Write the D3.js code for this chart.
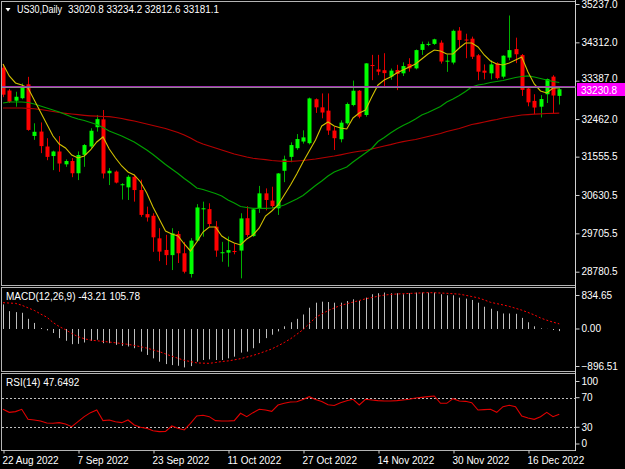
<!DOCTYPE html>
<html><head><meta charset="utf-8">
<script src="https://cdn.jsdelivr.net/npm/d3@7"></script>
<style>
html,body{margin:0;padding:0;background:#000;overflow:hidden}
svg{display:block}
text{font-family:"Liberation Sans",Arial,sans-serif;font-size:10px;fill:#fff}
</style>
</head><body>
<svg id="c" width="625" height="469"></svg>
<script>
const dates = ["08-22","08-23","08-24","08-25","08-26","08-29","08-30","08-31","09-01","09-02","09-05","09-06","09-07","09-08","09-09","09-12","09-13","09-14","09-15","09-16","09-19","09-20","09-21","09-22","09-23","09-26","09-27","09-28","09-29","09-30","10-03","10-04","10-05","10-06","10-07","10-10","10-11","10-12","10-13","10-14","10-17","10-18","10-19","10-20","10-21","10-24","10-25","10-26","10-27","10-28","10-31","11-01","11-02","11-03","11-04","11-07","11-08","11-09","11-10","11-11","11-14","11-15","11-16","11-17","11-18","11-21","11-22","11-23","11-24","11-25","11-28","11-29","11-30","12-01","12-02","12-05","12-06","12-07","12-08","12-09","12-12","12-13","12-14","12-15","12-16","12-19","12-20","12-21","12-22","12-23"].map(d => "2022-" + d);

const open = [33700,33150,32905,32965,33300,32055,32160,31800,31570,31680,31370,31450,31155,31600,31800,32265,32455,31155,31195,30865,30815,31070,30750,30170,30130,29585,29305,29180,29690,29225,28725,29530,30285,30290,29866,29225,29240,29280,29290,30070,29640,30310,30670,30495,30310,31215,31550,31760,31920,31880,32940,32745,32665,32185,31975,32360,32800,33145,32560,33765,33660,33640,33485,33645,33565,33790,33685,34130,34260,34275,34305,33850,33825,34595,34380,34400,34000,33630,33565,33805,33485,33945,34150,34005,33200,32900,32760,33060,33485,33020.8];
const high = [33790,33190,33120,33320,33480,32360,32380,32000,31700,32050,31490,31520,31680,31860,32240,32560,32680,31280,31220,30915,31110,31120,31000,30350,30190,29830,29670,29830,29760,29500,29590,30410,30470,30430,30000,29500,29630,29460,30190,30360,30300,30850,30790,30830,31160,31580,31900,32100,32190,32980,32960,33080,33080,32280,32430,32860,33390,33160,33810,34010,34010,34050,33680,33770,33830,33930,34140,34330,34330,34400,34360,34020,34620,34680,34520,34450,34030,33780,33880,33830,34000,34960,34425,34030,33240,33060,33040,33440,33520,33234.2];
const low = [32990,32850,32760,32940,32180,31960,31640,31470,31230,31190,31310,31060,30990,31310,31760,32160,31030,30870,30910,30520,30510,30470,30105,29990,29260,29035,28940,28820,28990,28740,28640,29500,29625,29870,29140,29020,28900,29200,28620,29620,29620,30200,30260,30310,30150,30940,31420,31720,31870,31850,32610,32480,32080,31715,31900,32330,32770,32480,32520,33400,33520,33250,33410,33160,33500,33605,33660,34010,34220,34250,33800,33600,33780,34170,33930,33910,33400,33420,33420,33420,33440,33880,33810,33020,32770,32580,32500,32850,32600,32812.6];
const close = [33050,32880,33000,33230,32200,32155,31810,31550,31680,31390,31450,31155,31595,31835,32180,32460,31150,31215,30930,30890,31070,30750,30150,30090,29610,29265,29180,29705,29225,28780,29530,30330,30310,29930,29290,29250,29300,29255,30065,29665,30285,30670,30510,30365,31150,31490,31835,31980,32020,32960,32745,32620,32185,32000,32375,32825,33145,32520,33805,33750,33605,33570,33630,33550,33740,33685,34125,34270,34275,34385,33850,33870,34590,34370,34365,33965,33605,33580,33780,33450,33990,34125,34025,33165,32865,32740,32945,33425,33030,33181.1];

const maFast = [33790,33501,33332,33284,33211,32922,32633,32343,32054,31861,31764,31595,31523,31571,31716,31909,32030,31740,31523,31330,31185,31113,30944,30679,30341,30052,29762,29690,29642,29449,29280,29497,29738,29859,29859,29642,29545,29473,29425,29569,29666,29835,30124,30245,30389,30631,30872,31137,31427,31692,31957,32295,32391,32295,32247,32223,32488,32608,32681,32994,33284,33404,33477,33573,33646,33718,33790,33911,34032,34128,34104,34032,34032,34176,34297,34297,34200,34007,33863,33790,33766,33814,33887,33959,33597,33308,33139,33091,33211,33211];
const maMid = [32850,32874,32874,32874,32862,32826,32777,32729,32681,32633,32572,32512,32464,32428,32379,32331,32259,32174,32114,32054,31981,31909,31812,31716,31607,31487,31366,31258,31149,31029,30920,30799,30763,30715,30667,30606,30510,30438,30353,30329,30310,30310,30310,30317,30341,30389,30462,30534,30619,30739,30860,30968,31089,31185,31246,31306,31427,31535,31644,31752,31921,32017,32126,32223,32307,32379,32464,32560,32620,32693,32765,32874,32946,33031,33127,33236,33284,33308,33344,33368,33392,33429,33465,33489,33501,33477,33441,33404,33368,33344];
const maSlow = [32729,32729,32729,32729,32722,32710,32693,32669,32645,32620,32601,32584,32567,32553,32541,32531,32524,32519,32500,32476,32444,32415,32379,32343,32307,32271,32235,32186,32138,32078,32005,31921,31861,31812,31764,31716,31668,31620,31583,31547,31516,31499,31482,31463,31451,31439,31439,31451,31463,31480,31499,31523,31547,31571,31600,31632,31661,31685,31704,31740,31776,31812,31844,31885,31916,31945,31969,32005,32042,32078,32114,32162,32198,32235,32283,32331,32360,32391,32423,32452,32488,32512,32536,32560,32570,32579,32589,32596,32601,32604];

const macdMain = [507,368,348,334,209,125,21,-28,-83,-188,-243,-313,-306,-278,-243,-222,-292,-292,-327,-348,-361,-396,-466,-535,-605,-674,-723,-744,-758,-792,-765,-674,-639,-626,-639,-639,-605,-570,-487,-466,-396,-292,-188,-118,-49,56,139,209,299,438,542,563,556,542,542,577,612,577,646,716,737,751,737,737,716,737,751,751,751,751,716,695,695,646,626,598,542,459,417,368,320,320,313,229,139,56,14,3,-20,-43.21];
const macdSignal = [542,535,528,490,436,384,310,245,135,50,-14,-92,-157,-200,-229,-242,-255,-269,-284,-299,-317,-338,-365,-393,-430,-466,-513,-560,-604,-645,-673,-698,-704,-708,-691,-670,-658,-636,-612,-578,-545,-504,-458,-411,-347,-279,-202,-109,-14,112,236,310,379,434,485,520,554,587,622,648,675,699,712,722,727,733,738,744,749,747,741,736,727,718,695,669,643,599,550,523,496,466,427,389,341,290,228,181,141,105.78];

const rsi = [54.3,50.2,51.2,54.3,40.8,39.9,38.5,35.8,35.4,36.3,34.5,30.9,37.6,44.4,49.8,53.4,39.0,39.9,37.6,36.3,39.9,33.1,30.0,28.6,25.4,24.1,24.5,31.8,28.6,26.4,35.4,45.3,46.2,44.4,39.0,38.5,38.5,39.0,48.9,44.4,49.8,54.3,53.4,51.6,60.1,62.4,64.2,64.6,67.5,71.4,67.5,65.0,60.5,59.5,63.3,66.0,67.8,60.1,67.8,66.9,66.0,65.5,65.5,66.0,66.9,67.8,69.6,70.5,71.4,72.3,62.4,62.4,68.7,65.5,65.1,63.3,53.4,53.9,54.3,50.2,57.9,59.7,57.9,45.3,42.6,40.8,44.4,50.2,44.4,47.6492];

const priceTicks = [35237.0,34312.0,33387.0,32462.0,31555.5,30630.5,29705.5,28780.5];
const macdTicks = [834.65,0,-896.51];
const rsiTicks = [100,70,30,0];
const rsiLevels = [70,30];
const dateTicks = ["2022-08-22","2022-09-07","2022-09-23","2022-10-11","2022-10-27","2022-11-14","2022-11-30","2022-12-16"];
const dateTickLabels = ["22 Aug 2022","7 Sep 2022","23 Sep 2022","11 Oct 2022","27 Oct 2022","14 Nov 2022","30 Nov 2022","16 Dec 2022"];
const bidPrice = 33230.8;
const symbolLabel = "US30,Daily";
const ohlcLabel = "33020.8 33234.2 32812.6 33181.1";
const macdLabel = "MACD(12,26,9) -43.21 105.78";
const rsiLabel = "RSI(14) 47.6492";

const svg = d3.select("#c");
svg.append("rect").attr("width",625).attr("height",469).attr("fill","#000");

const x = d3.scalePoint().domain(dates).range([3, 559.25]);
const y = d3.scaleLinear().domain([28780.5, 35237]).range([271.7, 4]);
const yM = d3.scaleLinear().domain([-896.51, 834.65]).range([372.5, 288.5]);
const yR = d3.scaleLinear().domain([0, 100]).range([449.5, 375.5]);

const frame = "#b4b4b4";
const AX = 575.5;
const FONT = "Liberation Sans, Arial, sans-serif";

const defs = svg.append("defs");
defs.append("clipPath").attr("id","cm").append("rect").attr("x",2).attr("y",2).attr("width",573).attr("height",283);
defs.append("clipPath").attr("id","cmacd").append("rect").attr("x",2).attr("y",288).attr("width",573).attr("height",83);
defs.append("clipPath").attr("id","crsi").append("rect").attr("x",2).attr("y",374).attr("width",573).attr("height",76);

// frames
svg.append("rect").attr("x",1.5).attr("y",1.5).attr("width",AX-1.5).attr("height",284).attr("fill","none").attr("stroke",frame);
svg.append("rect").attr("x",1.5).attr("y",287.5).attr("width",AX-1.5).attr("height",84).attr("fill","none").attr("stroke",frame);
svg.append("rect").attr("x",1.5).attr("y",373.5).attr("width",AX-1.5).attr("height",77).attr("fill","none").attr("stroke",frame);
svg.append("line").attr("x1",AX).attr("x2",AX).attr("y1",0).attr("y2",451).attr("stroke","#d0d0d0");

// candles
const main = svg.append("g").attr("clip-path","url(#cm)");
const idx = d3.range(dates.length);
const cg = main.append("g");
idx.forEach(i => {
  const cx = Math.round(x(dates[i]));
  const up = close[i] >= open[i];
  cg.append("line").attr("x1",cx+0.5).attr("x2",cx+0.5)
    .attr("y1",y(high[i])).attr("y2",y(low[i]))
    .attr("stroke", up ? "#00b000" : "#e00000").attr("stroke-width",1);
  const top = y(Math.max(open[i],close[i])), bot = y(Math.min(open[i],close[i]));
  cg.append("rect").attr("x",cx-1.5).attr("width",4)
    .attr("y",top).attr("height",Math.max(1,bot-top))
    .attr("fill", up ? "#00ff00" : "#ff0000");
});

// moving averages
const mline = arr => d3.line().x((d,i)=>x(dates[i])).y(d=>y(d))(arr);
main.append("path").attr("d",mline(maSlow)).attr("fill","none").attr("stroke","#b40000").attr("stroke-width",1.2);
main.append("path").attr("d",mline(maMid)).attr("fill","none").attr("stroke","#00a000").attr("stroke-width",1.2);
main.append("path").attr("d",mline(maFast)).attr("fill","none").attr("stroke","#d2c000").attr("stroke-width",1.1);

// bid lines
const by = Math.round(y(bidPrice));
svg.append("line").attr("x1",2).attr("x2",AX).attr("y1",by-0.5).attr("y2",by-0.5).attr("stroke","#a030b0").attr("stroke-width",1);
svg.append("line").attr("x1",2).attr("x2",AX).attr("y1",by+0.5).attr("y2",by+0.5).attr("stroke","#8a8a8a").attr("stroke-width",1);

// price axis
const pax = svg.append("g").attr("transform",`translate(${AX},0)`)
  .call(d3.axisRight(y).tickValues(priceTicks).tickFormat(d3.format(".1f")).tickSize(4).tickPadding(2));
pax.select(".domain").remove();
pax.selectAll("line").attr("stroke","#d0d0d0");
pax.selectAll("text").attr("fill","#fff").style("font-family",FONT).style("font-size","10px");
// the label next to the bid box sits a little higher, as in the reference
pax.selectAll(".tick").filter(d => Math.abs(y(d) - by) < 10).select("text").attr("y",-2.5);

// bid label
svg.append("rect").attr("x",577).attr("y",by-4).attr("width",48).attr("height",13).attr("fill","#ff00ff");
svg.append("text").attr("x",581).attr("y",by+7).text(bidPrice.toFixed(1)).attr("fill","#500050");

// header
svg.append("path").attr("d","M5.5,8 L10.5,8 L8,11.5 Z").attr("fill","#fff");
const sym = svg.append("text").attr("x",17).attr("y",13).text(symbolLabel);
const symW = sym.node().getComputedTextLength();
if (symW > 45) sym.attr("textLength",45).attr("lengthAdjust","spacingAndGlyphs");
const ohlc = svg.append("text").attr("x",68).attr("y",13).text(ohlcLabel);
const ohlcW = ohlc.node().getComputedTextLength();
if (ohlcW > 151) ohlc.attr("textLength",151).attr("lengthAdjust","spacingAndGlyphs");

// MACD
const mg = svg.append("g").attr("clip-path","url(#cmacd)");
idx.forEach(i => {
  const cx = Math.round(x(dates[i])) + 0.5;
  mg.append("line").attr("x1",cx).attr("x2",cx).attr("y1",yM(0)).attr("y2",yM(macdMain[i]))
    .attr("stroke","#bdbdbd").attr("stroke-width",1);
});
mg.append("path").attr("d", d3.line().x((d,i)=>x(dates[i])).y(d=>yM(d))(macdSignal))
  .attr("fill","none").attr("stroke","#ff0000").attr("stroke-width",1).attr("stroke-dasharray","2,2");
svg.append("text").attr("x",6).attr("y",300).text(macdLabel);
const max = svg.append("g").attr("transform",`translate(${AX},0)`)
  .call(d3.axisRight(yM).tickValues(macdTicks).tickFormat(d3.format(".2f")).tickSize(4).tickPadding(2));
max.select(".domain").remove();
max.selectAll("line").attr("stroke","#d0d0d0");
max.selectAll(".tick").attr("transform",d => `translate(0,${yM(d) + (d===macdTicks[0]?7:(d===macdTicks[2]?-6:0))})`);
max.selectAll("text").attr("fill","#fff").style("font-family",FONT).style("font-size","10px");

// RSI
const rg = svg.append("g").attr("clip-path","url(#crsi)");
rsiLevels.forEach(l => {
  rg.append("line").attr("x1",2).attr("x2",AX).attr("y1",Math.round(yR(l))+0.5).attr("y2",Math.round(yR(l))+0.5)
    .attr("stroke","#c0c0c0").attr("stroke-dasharray","2,2");
});
rg.append("path").attr("d", d3.line().x((d,i)=>x(dates[i])).y(d=>yR(d))(rsi))
  .attr("fill","none").attr("stroke","#e00000").attr("stroke-width",1.1);
svg.append("text").attr("x",6).attr("y",386).text(rsiLabel);
const rax = svg.append("g").attr("transform",`translate(${AX},0)`)
  .call(d3.axisRight(yR).tickValues(rsiTicks).tickFormat(d3.format("d")).tickSize(4).tickPadding(2));
rax.select(".domain").remove();
rax.selectAll("line").attr("stroke","#d0d0d0");
rax.selectAll(".tick").attr("transform",d => `translate(0,${yR(d) + (d===100?6:(d===0?-5.5:0))})`);
rax.selectAll("text").attr("fill","#fff").style("font-family",FONT).style("font-size","10px");

// date axis
const dax = svg.append("g").attr("transform","translate(0,450.5)")
  .call(d3.axisBottom(x).tickValues(dateTicks).tickFormat((d,i)=>dateTickLabels[i]).tickSize(3));
dax.select(".domain").remove();
dax.selectAll("line").attr("stroke","#d0d0d0").attr("transform","translate(0.5,0)");
dax.selectAll("text").attr("fill","#fff").attr("text-anchor","start").attr("x",-1).attr("y",6)
  .style("font-family",FONT).style("font-size","10px");
</script>
</body></html>
